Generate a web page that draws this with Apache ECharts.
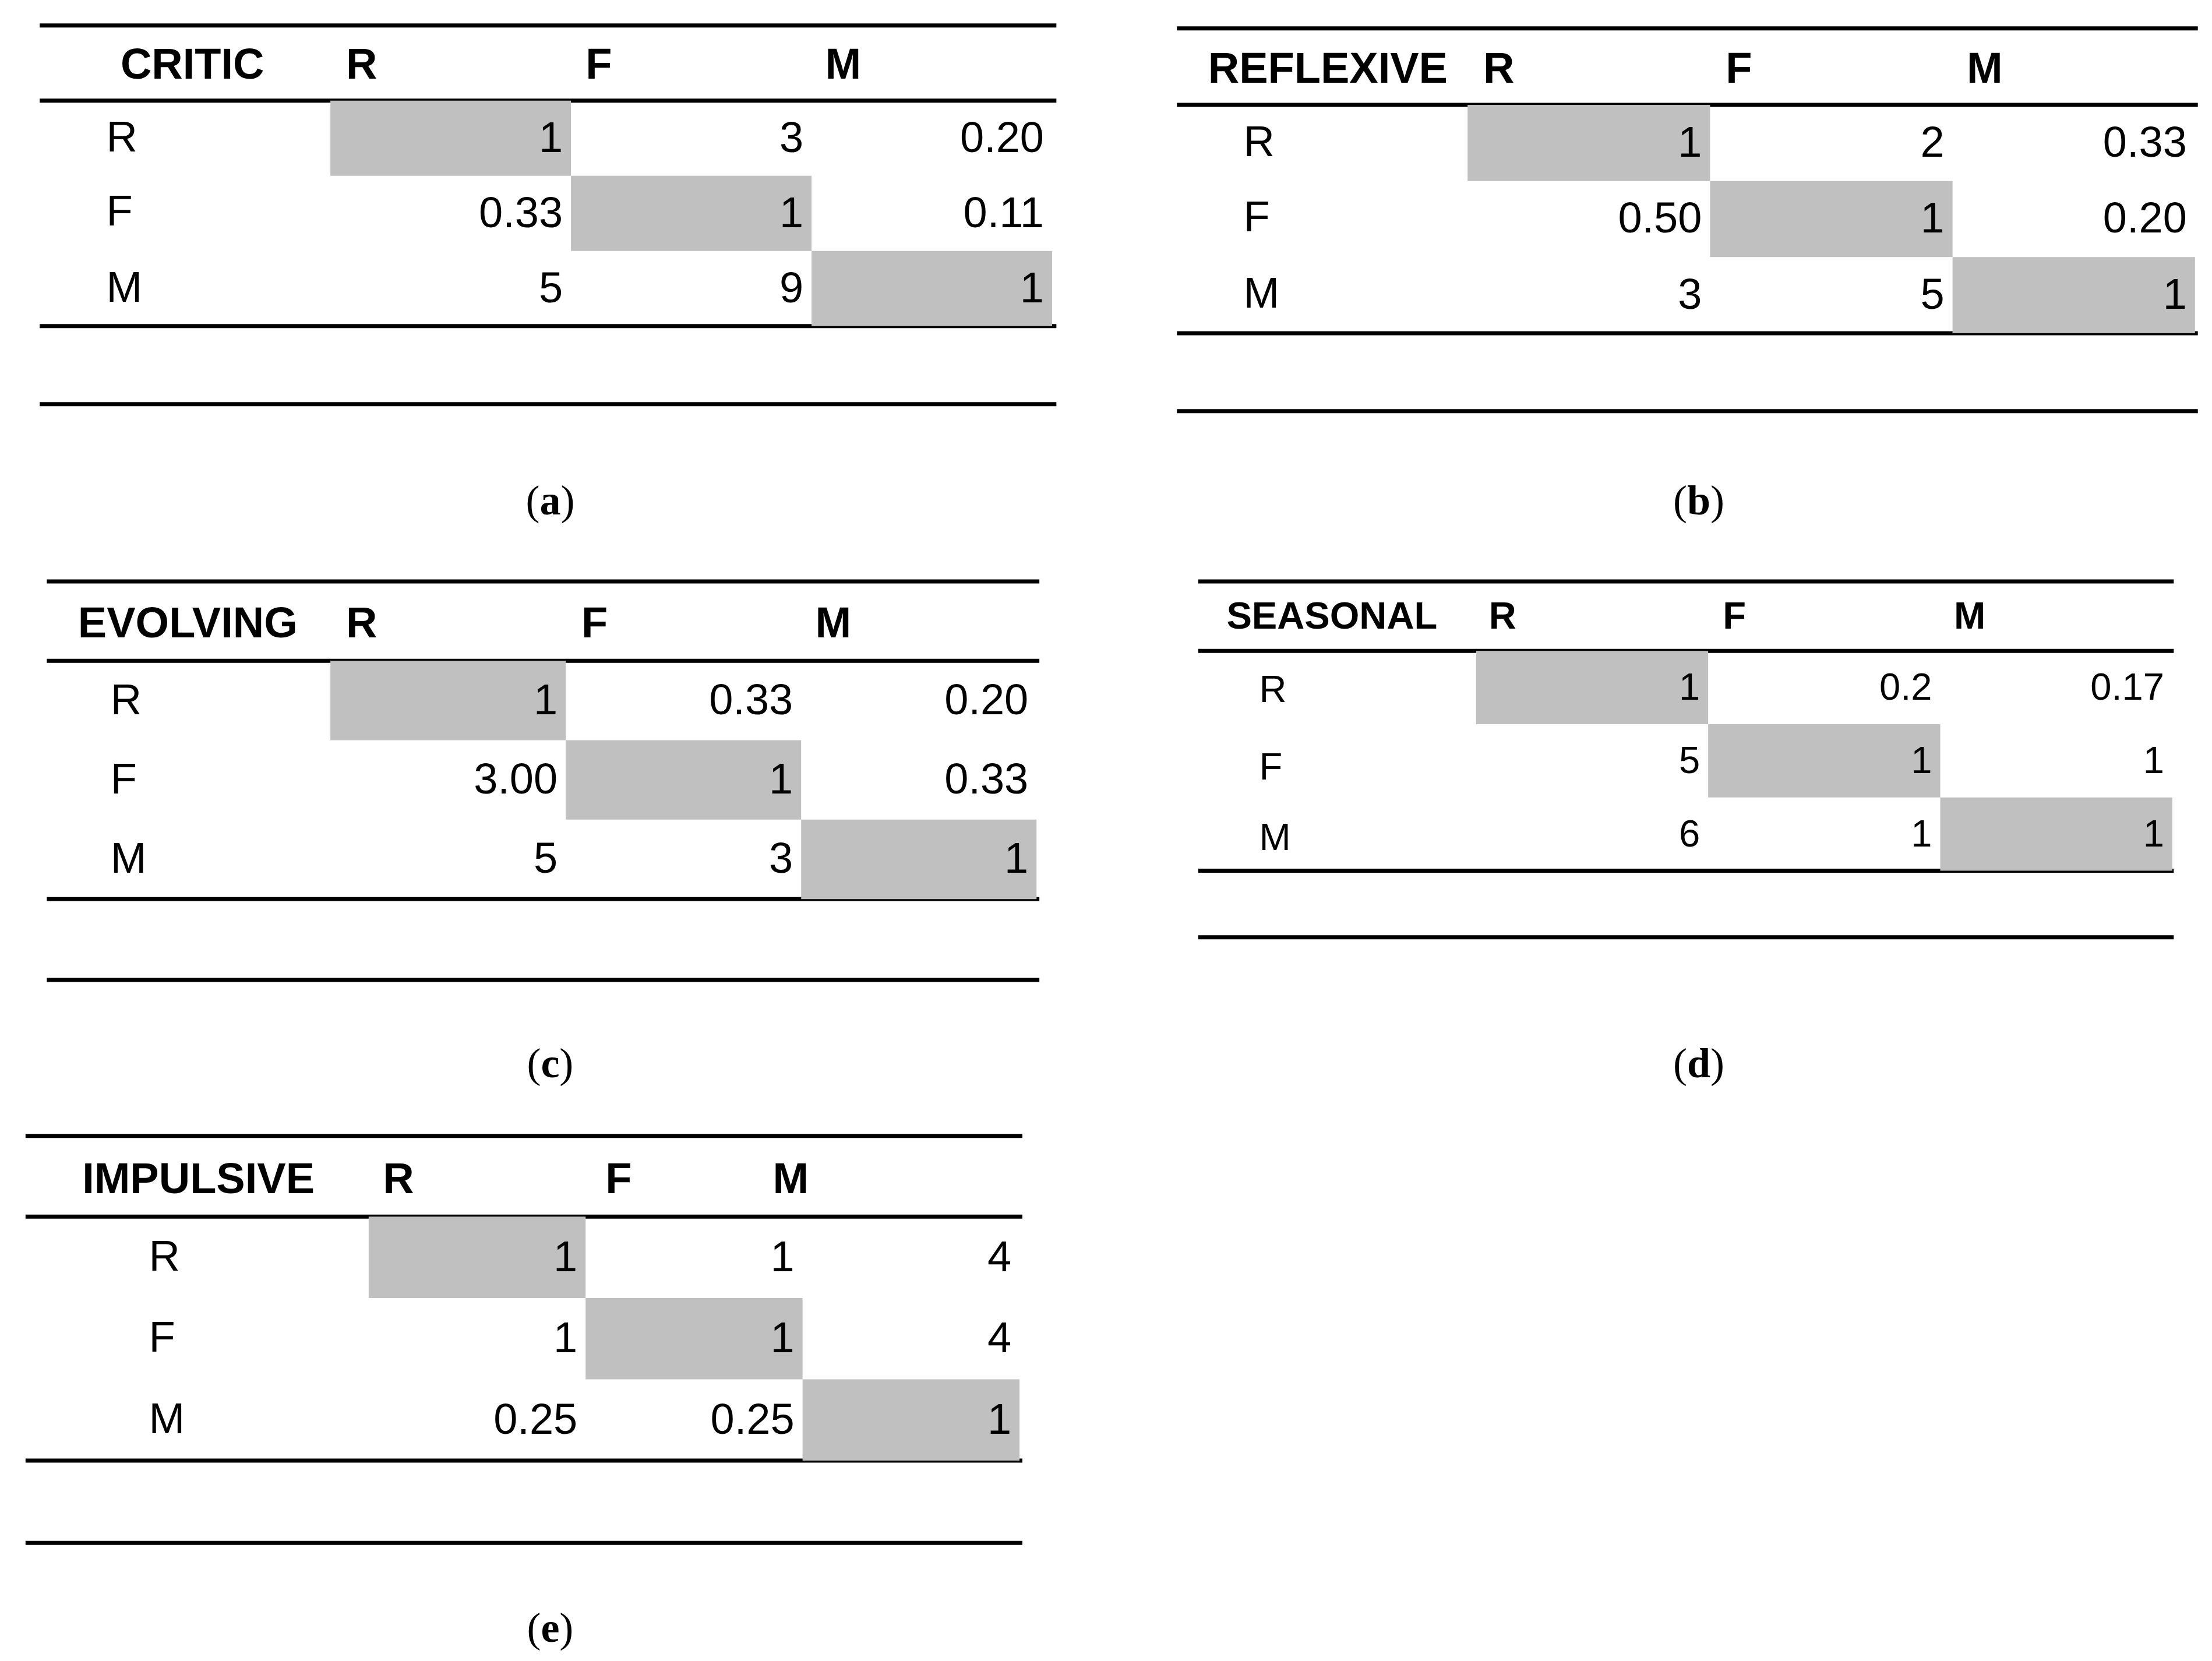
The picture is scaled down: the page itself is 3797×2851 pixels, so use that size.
<!DOCTYPE html>
<html><head><meta charset="utf-8">
<script src="https://cdn.jsdelivr.net/npm/echarts@6/dist/echarts.min.js"></script>
<style>html,body{margin:0;background:#fff}#c{width:3797px;height:2851px}</style>
</head><body><div id="c"></div>
<script>
const categories = ['R', 'F', 'M'];
const tableNames = ['CRITIC', 'REFLEXIVE', 'EVOLVING', 'SEASONAL', 'IMPULSIVE'];
const captions = ['a', 'b', 'c', 'd', 'e'];
const criticValues = [['1','3','0.20'],['0.33','1','0.11'],['5','9','1']];
const reflexiveValues = [['1','2','0.33'],['0.50','1','0.20'],['3','5','1']];
const evolvingValues = [['1','0.33','0.20'],['3.00','1','0.33'],['5','3','1']];
const seasonalValues = [['1','0.2','0.17'],['5','1','1'],['6','1','1']];
const impulsiveValues = [['1','1','4'],['1','1','4'],['0.25','0.25','1']];
const allValues = [criticValues, reflexiveValues, evolvingValues, seasonalValues, impulsiveValues];

// layout (display units, scaled by S)
const S = 2.434;
const layouts = [
  {L:28,R:745,top:18,hdr:47,cols:[233,402,572,742],rows:[71,123,176,230],extra:285,rowX:75,hx:[85,244,413,582],cap:[388,355],fs:1},
  {L:830,R:1550,top:20,hdr:50,cols:[1035,1206,1377,1548],rows:[74,127,180,235],extra:290,rowX:877,hx:[852,1046,1217,1387],cap:[1198,355],fs:1},
  {L:33,R:733,top:410,hdr:441,cols:[233,399,565,731],rows:[466,522,578,634],extra:691,rowX:78,hx:[55,244,410,575],cap:[388,752],fs:1},
  {L:845,R:1533,top:410,hdr:436,cols:[1041,1204,1368,1532],rows:[459,514,568,614],extra:661,rowX:888,hx:[865,1050,1215,1378],cap:[1198,752],fs:0.88},
  {L:18,R:721,top:801,hdr:833,cols:[260,416,535,719],rows:[858,915,972,1030],extra:1088,rowX:105,hx:[58,270,427,545],cap:[388,1150],fs:1}
];
const FONT = "'Liberation Sans Narrow','Liberation Sans',sans-serif";
const grids=[], xAxes=[], yAxes=[], series=[], graphics=[];
layouts.forEach((g,i)=>{
  const fs = 74*g.fs;
  grids.push({left:g.cols[0]*S, top:g.rows[0]*S, width:(g.cols[3]-g.cols[0])*S, height:(g.rows[3]-g.rows[0])*S});
  xAxes.push({type:'category', gridIndex:i, data:categories, show:false});
  yAxes.push({type:'category', gridIndex:i, data:categories, inverse:true, show:false});
  const data=[];
  allValues[i].forEach((row,r)=>row.forEach((v,c)=>data.push([c,r,v])));
  series.push({type:'custom', xAxisIndex:i, yAxisIndex:i, data:data,
    renderItem:(params,api)=>{
      const c=api.value(0), r=api.value(1);
      const p=api.coord([c,r]); const sz=api.size([1,1]);
      const x0=p[0]-sz[0]/2, y0=p[1]-sz[1]/2;
      const children=[];
      if(c===r) children.push({type:'rect',shape:{x:x0,y:y0,width:sz[0],height:sz[1]},style:{fill:'#c0c0c0'}});
      children.push({type:'text',style:{text:data[params.dataIndex][2],x:x0+sz[0]-14,y:p[1]+3,align:'right',verticalAlign:'middle',font:`${fs}px ${FONT}`,fill:'#000'}});
      return {type:'group',children};
    }});
  // rules
  [g.top, g.rows[0], g.rows[3], g.extra].forEach(y=>{
    graphics.push({type:'rect',shape:{x:g.L*S,y:y*S-3.5,width:(g.R-g.L)*S,height:7},style:{fill:'#000'}});
  });
  // header
  const heads=[tableNames[i]].concat(categories);
  heads.forEach((t,k)=>graphics.push({type:'text',x:g.hx[k]*S,y:g.hdr*S,style:{text:t,font:`bold ${fs}px ${FONT}`,fill:'#000',verticalAlign:'middle'}}));
  // row labels
  categories.forEach((t,r)=>graphics.push({type:'text',x:g.rowX*S,y:(g.rows[r]+g.rows[r+1])/2*S+3,style:{text:t,font:`${fs}px ${FONT}`,fill:'#000',verticalAlign:'middle'}}));
  // caption
  graphics.push({type:'text',x:g.cap[0]*S,y:g.cap[1]*S,style:{text:'{n|(}{b|'+captions[i]+'}{n|)}',align:'center',verticalAlign:'middle',
    rich:{n:{font:`72px 'Liberation Serif',serif`,fill:'#000'},b:{font:`bold 72px 'Liberation Serif',serif`,fill:'#000'}}}});
});
const chart=echarts.init(document.getElementById('c'));
chart.setOption({animation:false,backgroundColor:'#fff',grid:grids,xAxis:xAxes,yAxis:yAxes,series:series,graphic:graphics});
</script></body></html>
